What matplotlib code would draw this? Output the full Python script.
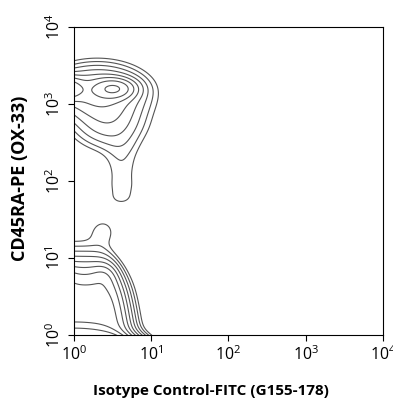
import numpy as np
import matplotlib
matplotlib.use("Agg")
from matplotlib import pyplot as plt

plt.rcParams['font.family'] = ['Open Sans', 'DejaVu Sans']
plt.rcParams['mathtext.fontset'] = 'custom'
plt.rcParams['mathtext.rm'] = 'Open Sans'

# density, all positions in log10 units
# gaussian blobs: upper (CD45RA+) population, its tail, lower population lobes
blob_x = [0.52, -0.15, 0.30, 0.45, 0.62, 0.62, 0.62, 0.62, 0.61, 0.38, -0.12, 0.38, 0.00]
blob_y = [3.20, 3.20, 3.15, 2.75, 2.45, 2.25, 2.05, 1.90, 1.76, 1.35, 0.74, 0.76, -0.30]
blob_sx = [0.16, 0.15, 0.35, 0.28, 0.16, 0.16, 0.16, 0.15, 0.14, 0.12, 0.10, 0.10, 0.30]
blob_sy = [0.08, 0.09, 0.20, 0.20, 0.13, 0.13, 0.13, 0.10, 0.08, 0.12, 0.10, 0.10, 0.127]
blob_w = [0.20, 0.27, 0.12, 0.05, 0.0085, 0.0085, 0.0085, 0.0075, 0.008, 0.012, 0.05, 0.05, 32.0]

# flat-topped block for the lower population (slanted right edge, top edge)
block_h = 0.40
block_right, block_tilt, block_soft_x = 0.64, 0.16, 0.073
block_top, block_soft_y = 0.74, 0.13

levels = [0.01, 0.016, 0.0256, 0.041, 0.066, 0.105, 0.168, 0.268, 0.43, 0.69]

xlabel = "Isotype Control-FITC (G155-178)"
ylabel = "CD45RA-PE (OX-33)"

lx = np.linspace(-0.8, 4, 600)
ly = np.linspace(-1.0, 4, 650)
LX, LY = np.meshgrid(lx, ly)
Z = np.zeros_like(LX)
for x0, y0, sx, sy, w in zip(blob_x, blob_y, blob_sx, blob_sy, blob_w):
    Z += w * np.exp(-0.5 * (((LX - x0) / sx) ** 2 + ((LY - y0) / sy) ** 2))
edge_x = block_right - block_tilt * np.clip(LY, 0, None)
Z += block_h / (1 + np.exp((LX - edge_x) / block_soft_x)) / (1 + np.exp((LY - block_top) / block_soft_y))

fig = plt.figure(figsize=(3.93, 4.01), dpi=100)
ax = fig.add_axes([0.1883, 0.1646, 0.786, 0.768])
ax.contour(10 ** LX, 10 ** LY, Z, levels=levels, colors='#555555', linewidths=0.8)
ax.set_xscale('log')
ax.set_yscale('log')
ax.set_xlim(1, 1e4)
ax.set_ylim(1, 1e4)
ax.minorticks_off()
ax.tick_params(direction='out', length=4, width=0.8, labelsize=11.5)
for lab in ax.get_yticklabels():
    lab.set_rotation(90)
    lab.set_va('center')
ax.set_xlabel(xlabel, fontweight='bold', fontsize=11)
ax.xaxis.set_label_coords(0.443, -0.16)
ax.set_ylabel(ylabel, fontweight='bold', fontsize=13)
ax.yaxis.set_label_coords(-0.145, 0.51)
fig.savefig("out.png")
